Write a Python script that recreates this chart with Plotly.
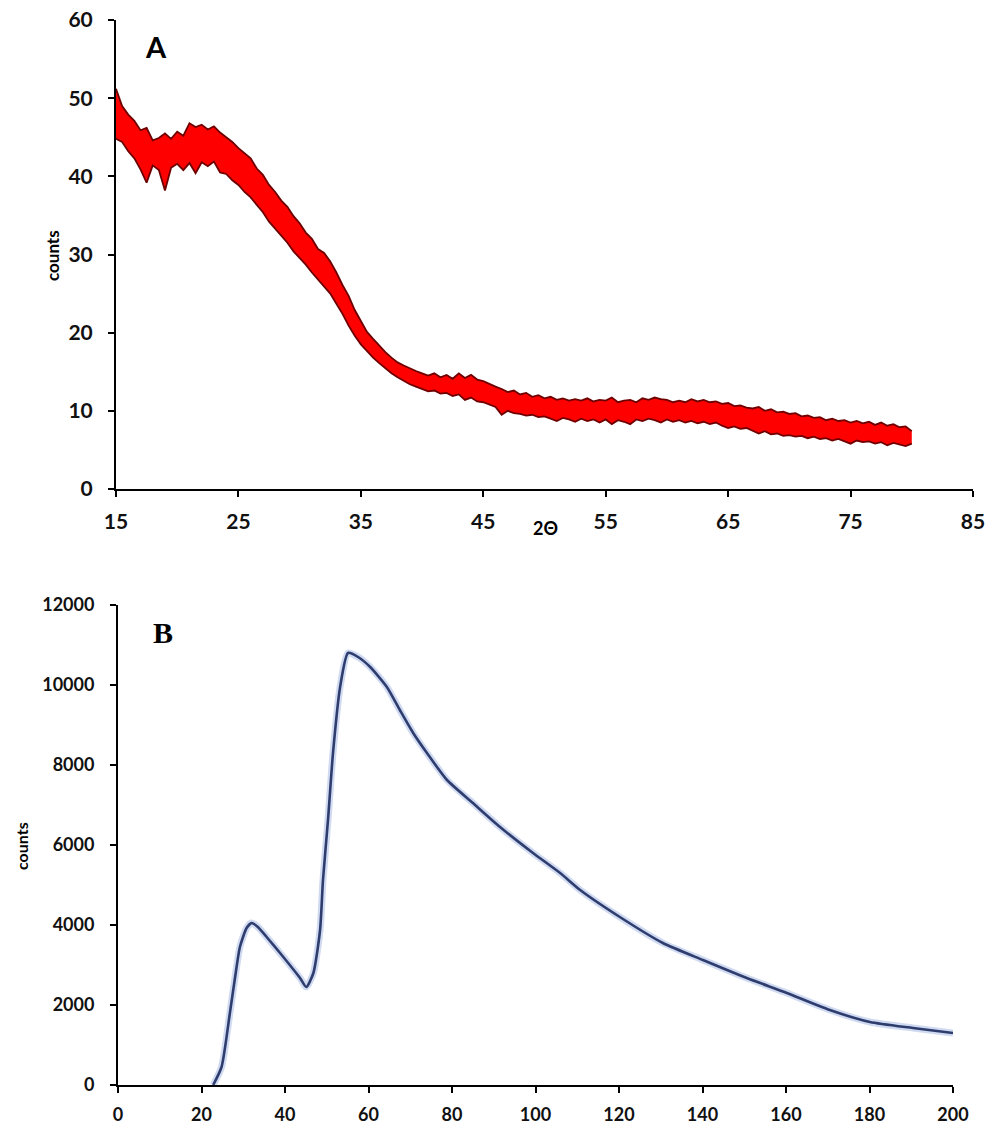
import plotly.graph_objects as go

# ---------------- Panel A data (XRD, 2-theta vs counts) ----------------
TWO_THETA_START = 15.0
TWO_THETA_STEP = 0.5
A_upper = [
    51.2, 49.0, 47.9, 47.1, 45.9, 46.2, 44.6, 44.9, 45.5, 44.8,
    45.7, 45.2, 46.8, 46.3, 46.6, 46.0, 46.4, 45.6, 45.0, 44.4,
    43.6, 42.9, 42.3, 41.0, 40.2, 38.9, 38.0, 36.9, 36.1, 34.9,
    34.0, 32.8, 32.0, 30.7, 30.2, 29.1, 27.7, 26.1, 24.7, 22.9,
    21.4, 20.1, 19.2, 18.3, 17.5, 16.8, 16.2, 15.8, 15.4, 15.1,
    14.8, 14.5, 14.8, 14.3, 14.6, 14.1, 14.8, 14.2, 14.6, 14.0,
    13.8, 13.4, 13.1, 12.8, 12.4, 12.6, 12.1, 12.3, 11.8, 12.0,
    11.6, 11.8, 11.4, 11.6, 11.3, 11.5, 11.3, 11.6, 11.2, 11.4,
    11.3, 11.7, 11.1, 11.3, 11.4, 11.1, 11.6, 11.4, 11.7, 11.5,
    11.4, 11.1, 11.3, 11.1, 11.5, 11.2, 11.4, 11.1, 11.2, 10.9,
    11.0, 10.6, 10.7, 10.4, 10.3, 10.5, 10.0, 10.2, 9.8, 9.9,
    9.6, 9.7, 9.3, 9.4, 9.1, 9.2, 8.8, 9.0, 8.7, 8.8,
    8.5, 8.7, 8.4, 8.6, 8.2, 8.5, 8.1, 8.3, 7.9, 8.0,
    7.4,
]
A_lower = [
    44.8, 44.4, 43.2, 42.3, 40.9, 39.2, 41.4, 40.8, 38.2, 41.1,
    41.6, 40.8, 41.7, 40.4, 41.8, 41.3, 41.9, 40.5, 40.3, 39.5,
    38.9, 38.0, 37.3, 36.3, 35.4, 34.2, 33.3, 32.4, 31.5, 30.4,
    29.6, 28.7, 27.7, 26.8, 25.9, 25.0, 23.7, 22.4, 20.9, 19.6,
    18.5, 17.6, 16.8, 16.1, 15.4, 14.8, 14.3, 13.8, 13.4, 13.1,
    12.8, 12.5, 12.6, 12.2, 12.3, 11.9, 12.1, 11.4, 11.7, 11.2,
    11.1, 10.8, 10.5, 9.5, 10.0, 9.7, 9.6, 9.4, 9.5, 9.2,
    9.3, 9.0, 8.7, 9.1, 8.9, 8.6, 9.0, 8.7, 8.9, 8.5,
    8.9, 8.3, 8.8, 8.6, 8.3, 8.9, 8.7, 9.0, 8.8, 8.5,
    8.9, 8.6, 8.8, 8.5, 8.7, 8.4, 8.6, 8.3, 8.5, 8.1,
    7.8, 8.0, 7.7, 7.8, 7.5, 7.1, 7.4, 7.0, 7.1, 6.8,
    6.9, 6.7, 6.8, 6.5, 6.7, 6.4, 6.5, 6.2, 6.4, 6.1,
    5.8, 6.2, 6.0, 6.1, 5.8, 6.0, 5.6, 5.9, 5.7, 5.5,
    5.8,
]
A_x = [TWO_THETA_START + TWO_THETA_STEP * i for i in range(len(A_upper))]

A_xticks = [15, 25, 35, 45, 55, 65, 75, 85]
A_yticks = [0, 10, 20, 30, 40, 50, 60]

# ---------------- Panel B data ----------------
B_x = [22.8, 24.8, 26.8, 28.4, 29.2, 30.8, 32.0, 33.5, 35.6, 39.6,
       43.6, 45.1, 46.8, 48.4, 49.1, 50.3, 51.5, 53.2, 55.1, 57.5,
       60.4, 64.4, 67.5, 70.7, 74.0, 78.8, 85.0, 91.5, 99.4, 105.9,
       110.7, 120.2, 130.5, 140.1, 150.6, 160.2, 170.5, 180.1, 190.4, 200.0]
B_y = [0, 450, 1800, 2950, 3450, 3925, 4050, 3950, 3700, 3200,
       2675, 2450, 2800, 3875, 5125, 6625, 8300, 9950, 10800, 10700,
       10450, 9950, 9375, 8800, 8300, 7625, 7050, 6450, 5800, 5300,
       4875, 4200, 3550, 3125, 2675, 2300, 1875, 1575, 1425, 1300]

B_xticks = [0, 20, 40, 60, 80, 100, 120, 140, 160, 180, 200]
B_yticks = [0, 2000, 4000, 6000, 8000, 10000, 12000]

# page has an 8px body margin: the figure is placed at (8, 8)
OFF = 8
W, H = 1006 - OFF, 1126 - OFF
FONT = "Lato"


def px(x):
    return (x - OFF) / W


def py(y):
    return 1 - (y - OFF) / H


fig = go.Figure()

# Panel A: band between lower and upper envelope
fig.add_trace(go.Scatter(x=A_x, y=A_lower, mode="lines",
                         line=dict(color="#6e0000", width=1.8),
                         xaxis="x", yaxis="y", showlegend=False, hoverinfo="skip"))
fig.add_trace(go.Scatter(x=A_x, y=A_upper, mode="lines", fill="tonexty",
                         fillcolor="#ff0000",
                         line=dict(color="#6e0000", width=1.8),
                         xaxis="x", yaxis="y", showlegend=False))

# Panel B: halo + line
fig.add_trace(go.Scatter(x=B_x, y=B_y, mode="lines",
                         line=dict(color="rgba(120,150,215,0.35)", width=7, shape="spline", smoothing=0.6),
                         xaxis="x2", yaxis="y2", showlegend=False, hoverinfo="skip"))
fig.add_trace(go.Scatter(x=B_x, y=B_y, mode="lines",
                         line=dict(color="#2e3d6e", width=2.6, shape="spline", smoothing=0.6),
                         xaxis="x2", yaxis="y2", showlegend=False))

axis_common = dict(showline=True, linecolor="black", linewidth=2, ticks="outside",
                   ticklen=6, tickwidth=2, tickcolor="black", showgrid=False,
                   zeroline=False, mirror=False, automargin=False,
                   ticklabeloverflow="allow")

ann_common = dict(xref="paper", yref="paper", showarrow=False,
                  xanchor="center", yanchor="middle")

fig.update_layout(
    width=W, height=H,
    margin=dict(l=0, r=0, t=0, b=0, autoexpand=False),
    paper_bgcolor="white", plot_bgcolor="white",
    font=dict(family=FONT, color="#111111", weight="bold"),
    xaxis=dict(domain=[px(116), px(973)], range=[15, 85], tickvals=A_xticks,
               anchor="y", tickfont=dict(size=21, weight="bold"), ticklabelstandoff=7,
               **axis_common),
    yaxis=dict(domain=[py(489), py(20)], range=[0, 60], tickvals=A_yticks,
               anchor="x", tickfont=dict(size=21, weight="bold"), ticklabelstandoff=11,
               **axis_common),
    xaxis2=dict(domain=[px(118), px(953)], range=[0, 200], tickvals=B_xticks,
                anchor="y2", tickfont=dict(size=18, weight="bold"), ticklabelstandoff=6,
                **axis_common),
    yaxis2=dict(domain=[py(1085), py(605)], range=[0, 12000], tickvals=B_yticks,
                tickformat="d", anchor="x2", tickfont=dict(size=18, weight="bold"),
                ticklabelstandoff=12, **axis_common),
    annotations=[
        dict(text="A", x=px(156), y=py(46),
             font=dict(family=FONT, size=29, weight="bold", color="black"), **ann_common),
        dict(text="B", x=px(163), y=py(632),
             font=dict(family="Liberation Serif", size=30, weight="bold", color="black"), **ann_common),
        dict(text="counts", x=px(52), y=py(256), textangle=-90,
             font=dict(family=FONT, size=17, weight="bold", color="black"), **ann_common),
        dict(text="counts", x=px(21), y=py(846), textangle=-90,
             font=dict(family=FONT, size=16, weight="bold", color="black"), **ann_common),
        dict(text="2Θ", x=px(545), y=py(528),
             font=dict(family=FONT, size=18, weight="bold", color="black"), **ann_common),
    ],
)

fig.write_html("out.html")
